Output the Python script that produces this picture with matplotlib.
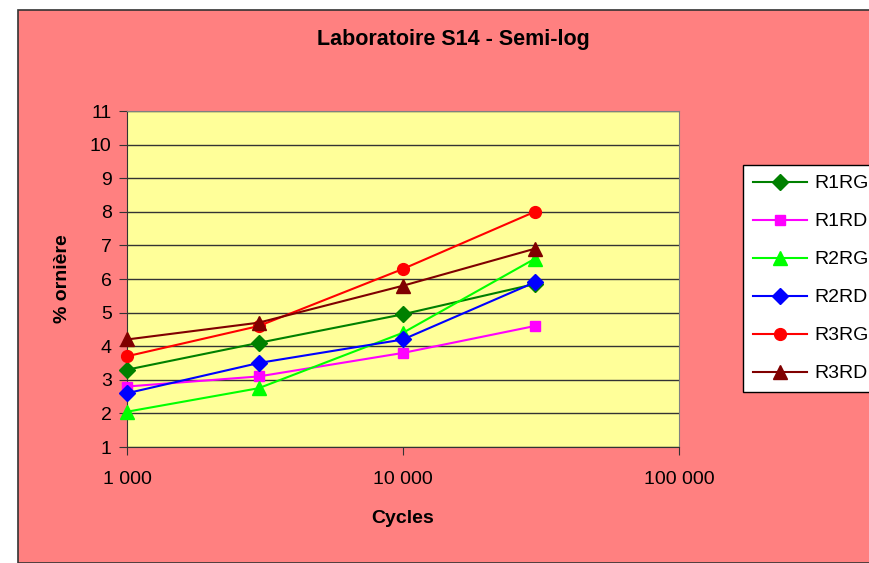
import numpy as np
import matplotlib.pyplot as plt
from matplotlib.patches import Rectangle
from matplotlib.ticker import FuncFormatter, NullLocator

plt.rcParams['font.family'] = ['Liberation Sans', 'DejaVu Sans']

cycles = [1000, 3000, 10000, 30000]
r1rg = [3.3, 4.1, 4.95, 5.85]
r1rd = [2.8, 3.1, 3.8, 4.6]
r2rg = [2.05, 2.75, 4.4, 6.6]
r2rd = [2.6, 3.5, 4.2, 5.9]
r3rg = [3.7, 4.6, 6.3, 8.0]
r3rd = [4.2, 4.7, 5.8, 6.9]

series = [
    ('R1RG', r1rg, '#008000', 'D', 8),
    ('R1RD', r1rd, '#FF00FF', 's', 7.5),
    ('R2RG', r2rg, '#00FF00', '^', 9.5),
    ('R2RD', r2rd, '#0000FF', 'D', 8),
    ('R3RG', r3rg, '#FF0000', 'o', 8.5),
    ('R3RD', r3rd, '#800000', '^', 9.5),
]

W, H = 870, 563
fig = plt.figure(figsize=(W / 100, H / 100), dpi=100)
fig.patch.set_facecolor('white')
# salmon chart area with dark border
bg = Rectangle((18 / W, 0), 1, 1 - 10 / H, transform=fig.transFigure,
               facecolor='#FF8080', edgecolor='#333333', linewidth=1.2, zorder=-10)
fig.add_artist(bg)

ax = fig.add_axes([127 / W, 1 - 447 / H, (679 - 127) / W, (447 - 111) / H])
ax.set_facecolor('#FFFF99')

for name, vals, col, mk, ms in series:
    ax.plot(cycles, vals, color=col, marker=mk, markersize=ms, linewidth=1.5,
            markeredgecolor=col, label=name, clip_on=False, zorder=3)

ax.set_xscale('log')
ax.set_xlim(1000, 100000)
ax.set_ylim(1, 11)
ax.set_yticks(np.arange(1, 12, 1))
ax.xaxis.set_minor_locator(NullLocator())
ax.xaxis.set_major_formatter(FuncFormatter(lambda v, p: f'{int(round(v)):,}'.replace(',', ' ')))
ax.yaxis.grid(True, color='#333333', linewidth=1)
ax.set_axisbelow(True)

for s in ['top', 'right']:
    ax.spines[s].set_color('#808080')
for s in ['left', 'bottom']:
    ax.spines[s].set_color('#333333')
ax.tick_params(axis='both', direction='out', length=6, color='#333333', labelsize=14, pad=5)
ax.tick_params(axis='x', pad=11)

ax.set_xlabel('Cycles', fontsize=14, fontweight='bold', labelpad=16)
ax.set_ylabel('% ornière', fontsize=14, fontweight='bold', labelpad=14)
fig.text(453 / W, 1 - 40 / H, 'Laboratoire S14 - Semi-log', ha='center', va='center',
         fontsize=15.5, fontweight='bold')

leg = fig.legend(loc='upper left', bbox_to_anchor=(743 / W, 1 - 165 / H), fontsize=14,
                 frameon=True, fancybox=False, edgecolor='black', facecolor='white',
                 framealpha=1, handlelength=2.8, labelspacing=1.05, borderpad=0.5,
                 handletextpad=0.35, borderaxespad=0)
leg.get_frame().set_linewidth(1)

plt.savefig('out.png', dpi=100)
plt.close()
